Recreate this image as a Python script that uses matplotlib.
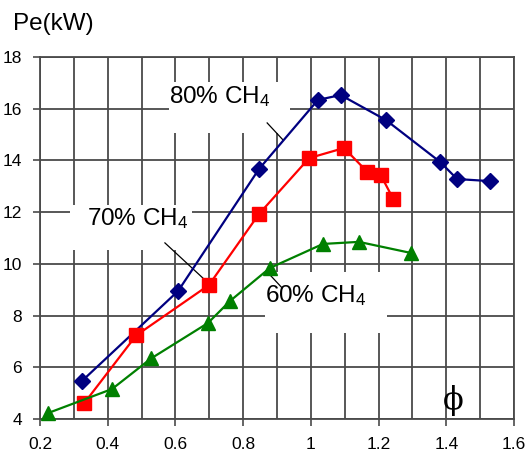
import numpy as np
import matplotlib.pyplot as plt
from matplotlib.patches import Rectangle

plt.rcParams['font.family'] = ['Liberation Sans', 'DejaVu Sans']
plt.rcParams['mathtext.fontset'] = 'custom'
plt.rcParams['mathtext.rm'] = 'Liberation Sans'
plt.rcParams['mathtext.it'] = 'Liberation Sans:italic'

# power output vs equivalence ratio for three biogas compositions
phi_80 = [0.324, 0.608, 0.847, 1.021, 1.088, 1.222, 1.382, 1.432, 1.529]
pe_80 = [5.47, 8.95, 13.67, 16.34, 16.53, 15.56, 13.94, 13.28, 13.20]

phi_70 = [0.330, 0.484, 0.699, 0.847, 0.995, 1.098, 1.166, 1.207, 1.243]
pe_70 = [4.60, 7.23, 9.18, 11.93, 14.09, 14.48, 13.57, 13.42, 12.52]

phi_60 = [0.224, 0.413, 0.528, 0.696, 0.761, 0.879, 1.036, 1.142, 1.296]
pe_60 = [4.23, 5.16, 6.34, 7.71, 8.56, 9.84, 10.77, 10.85, 10.42]

xticks = [0.2, 0.4, 0.6, 0.8, 1, 1.2, 1.4, 1.6]
xtick_labels = ['0.2', '0.4', '0.6', '0.8', '1', '1.2', '1.4', '1.6']
yticks = [4, 6, 8, 10, 12, 14, 16, 18]

grid_c = '#4a4a4a'

fig = plt.figure(figsize=(5.29, 4.51), dpi=100)
ax = fig.add_axes([0.0756, 0.071, 0.896, 0.8026])

ax.set_xlim(0.2, 1.6)
ax.set_ylim(4, 18)
ax.set_xticks(xticks)
ax.set_xticklabels(xtick_labels)
ax.set_xticks(np.arange(0.3, 1.6, 0.2), minor=True)
ax.set_yticks(yticks)
ax.tick_params(axis='both', which='major', direction='out', length=5,
               width=1.2, color=grid_c, labelsize=12.5, pad=8)
ax.tick_params(axis='x', which='minor', length=0)
ax.grid(True, which='both', color=grid_c, lw=1.3, zorder=0)
ax.set_axisbelow(True)
for s in ax.spines.values():
    s.set_color(grid_c)
    s.set_linewidth(1.3)

# white label boxes that interrupt the grid
for (x0, x1, y0, y1) in [(0.581, 0.939, 15.06, 17.03),
                         (0.289, 0.649, 10.54, 12.28),
                         (0.865, 1.225, 7.33, 9.69)]:
    ax.add_patch(Rectangle((x0, y0), x1 - x0, y1 - y0, fc='white',
                           ec='none', zorder=1))

ax.plot(phi_80, pe_80, color='#000080', lw=1.6, marker='D', ms=8,
        zorder=3, clip_on=False)
ax.plot(phi_70, pe_70, color='#ff0000', lw=1.6, marker='s', ms=9.5,
        zorder=3, clip_on=False)
ax.plot(phi_60, pe_60, color='#008000', lw=1.6, marker='^', ms=10,
        zorder=3, clip_on=False)

lab = dict(fontsize=17.5, va='center', ha='left', zorder=4)
ax.text(0.581, 16.47, '80% CH$_{\\mathrm{4}}$', **lab)
ax.text(0.339, 11.77, '70% CH$_{\\mathrm{4}}$', **lab)
ax.text(0.865, 8.76, '60% CH$_{\\mathrm{4}}$', **lab)

# leader lines from labels to curves
ax.plot([0.871, 0.918], [15.45, 14.79], color='black', lw=0.9, zorder=2)
ax.plot([0.569, 0.687], [10.81, 9.38], color='black', lw=0.9, zorder=2)
ax.plot([0.871, 0.915], [9.69, 9.07], color='black', lw=0.9, zorder=2)

ax.text(1.42, 4.72, '\u03d5', fontsize=22, ha='center', va='center',
        family=['DejaVu Serif'])

fig.text(13 / 529, 0.947, 'Pe(kW)', fontsize=17.5, ha='left', va='center')

fig.savefig('out.png', dpi=100)
